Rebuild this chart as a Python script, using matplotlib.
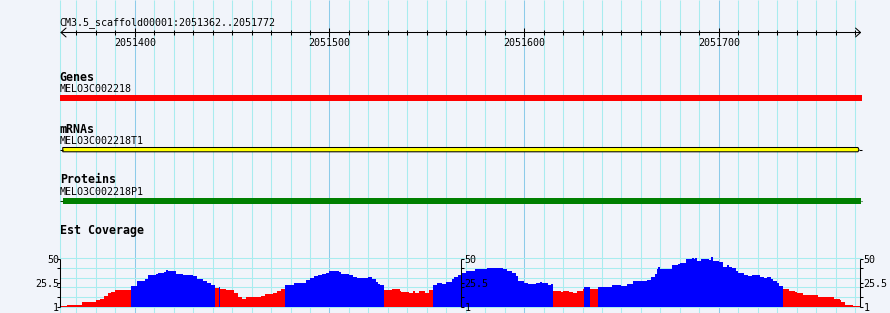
import numpy as np
import matplotlib
matplotlib.use("Agg")
import matplotlib.pyplot as plt
from matplotlib.patches import Polygon

# region shown in the browser
chrom = "CM3.5_scaffold00001"
view_start = 2051362
view_end = 2051772

# feature tracks
track_names = ["Genes", "mRNAs", "Proteins"]
feature_names = ["MELO3C002218", "MELO3C002218T1", "MELO3C002218P1"]
feature_colors = ["#ff0000", "#ffff00", "#008000"]
feature_starts = [2051361.5, 2051363, 2051363]
feature_ends = [2051773.5, 2051772, 2051773]

cov_offsets = [0, 3, 11, 18, 20, 22, 24, 26, 28, 36, 39, 43, 45, 49, 50, 53, 54, 55, 59, 63,
               68, 70, 73, 75, 77, 79, 81, 82, 85, 89, 91, 93, 95, 97, 103, 105, 109, 111, 113, 115,
               120, 126, 128, 130, 132, 134, 136, 138, 143, 144, 148, 150, 152, 158, 160, 162, 163, 164, 166, 170,
               174, 175, 179, 181, 182, 184, 186, 187, 189, 191, 193, 196, 198, 201, 202, 204, 206, 208, 213, 219,
               227, 229, 232, 234, 235, 238, 240, 244, 246, 247, 250, 252, 253, 257, 258, 261, 263, 265, 268, 269,
               272, 276, 283, 288, 291, 294, 298, 301, 303, 305, 306, 307, 308, 310, 312, 314, 317, 318, 321, 324,
               325, 326, 327, 329, 333, 334, 335, 338, 340, 342, 343, 345, 347, 348, 351, 353, 355, 359, 361, 363,
               365, 366, 368, 369, 371, 374, 377, 378, 381, 389, 397, 400, 401, 403, 407]
cov_values = [2.3, 3.3, 6.1, 8.1, 9.5, 12.2, 15, 16.3, 18.4, 22.7, 27.2, 29.3, 33.4, 34.7, 35.4, 36.7, 38.8, 37.4, 34.7, 34,
              32.6, 29.9, 27.2, 25.2, 23.2, 20.8, 21.6, 19.1, 18, 15.6, 11.5, 9.5, 10.9, 11.2, 12.2, 14.6, 15.6, 17, 19.4, 23.8,
              25.2, 28.6, 30.6, 32.6, 33.7, 34.7, 36, 37.8, 36.7, 35, 33.4, 31.3, 30.6, 31.3, 29.9, 26.5, 24.5, 23.2, 18.4, 19.1,
              17.6, 16.3, 15.6, 17, 15.6, 17, 17.6, 15.6, 18.4, 23.8, 25.2, 24.5, 26.5, 29.3, 31.3, 33.7, 36, 37.4, 40.1, 40.8,
              40.1, 38.1, 36, 32.6, 27.9, 25.8, 24.8, 25.8, 26.5, 25.2, 23.8, 24.5, 17.6, 16.3, 17, 16.3, 15.6, 17, 19.1, 21.6,
              19.1, 21.7, 23.8, 22.4, 24.8, 27.9, 27.2, 28.6, 31.9, 34.7, 40.1, 42.1, 40.1, 39.5, 40.1, 43.6, 44.9, 46.2, 49.7, 51,
              49.7, 51, 48.3, 50.3, 49, 51.7, 47.6, 46.9, 42.1, 44.2, 41.5, 40.8, 38.1, 36, 33.4, 32.6, 33.4, 31.3, 30.6, 31.3,
              29.9, 27.2, 25.2, 22.4, 19.7, 17.6, 16.3, 15, 13.6, 10.9, 9.5, 8.1, 6.1, 3.3, 2.3]
cov_pivot = 21.2
cov_ticks = [1, 11, 21, 25.5, 41, 50]
cov_tick_labels = ["1", "", "", "25.5", "", "50"]
cov_grid = [1, 11, 21, 31, 41, 51]

BG = "#f1f4fa"
GRID = "#a8ecef"
GRID_MAJOR = "#8ccbe9"
SMALL = dict(family="DejaVu Sans Mono", fontsize=7.2)
BOLD = dict(family="DejaVu Sans Mono", fontsize=8.4, fontweight="bold")

# pixel layout of the panel
W, H = 890, 313
bp_px = 1.9467
x0 = 2051400 - 134.8 / bp_px
x1 = x0 + W / bp_px
lo = view_start - 0.5
hi = view_end + 1.5

fig = plt.figure(figsize=(W / 100, H / 100), dpi=100)
fig.patch.set_facecolor(BG)
ax = fig.add_axes([0, 0, 1, 1])
ax.set_xlim(x0, x1)
ax.set_ylim(H, 0)
ax.axis("off")

# vertical grid every 10 bp, darker every 100 bp
grid_x = np.arange((view_start // 10 + 1) * 10, view_end + 1, 10)
ax.vlines(lo, 0, H, colors=GRID, lw=0.75, zorder=0)
ax.vlines(grid_x[grid_x % 100 != 0], 0, H, colors=GRID, lw=0.75, zorder=0)
ax.vlines(grid_x[grid_x % 100 == 0], 0, H, colors=GRID_MAJOR, lw=0.75, zorder=0)

# ruler
ax.text(lo, 24.7, "%s:%d..%d" % (chrom, view_start, view_end), ha="left", va="baseline", **SMALL)
ax.annotate("", xy=(view_start - 0.3, 32.5), xytext=(view_end + 1.2, 32.5),
            arrowprops=dict(arrowstyle="<->,head_length=0.45,head_width=0.4", lw=0.75,
                            color="black", shrinkA=0, shrinkB=0, mutation_scale=8))
ax.vlines(grid_x[grid_x % 100 != 0], 30, 35, colors="black", lw=0.75)
ax.vlines(grid_x[grid_x % 100 == 0], 28, 37, colors="black", lw=0.75)
for t in grid_x[grid_x % 100 == 0]:
    ax.text(t, 46, str(t), ha="center", va="baseline", **SMALL)

# feature tracks
label_base = [80.7, 132.7, 183.3]
name_base = [92.3, 144, 195]
bar_top = [95, 147.5, 198]
bar_h = [5.5, 4.3, 6]
for i in range(3):
    ax.text(lo, label_base[i], track_names[i], ha="left", va="baseline", **BOLD)
    ax.text(lo, name_base[i], feature_names[i], ha="left", va="baseline", **SMALL)
    s, e = feature_starts[i], feature_ends[i]
    top, h = bar_top[i], bar_h[i]
    mid = top + h / 2
    if track_names[i] == "mRNAs":
        tip = 1 / bp_px
        ax.add_patch(Polygon([(s, top), (e - tip, top), (e, mid), (e - tip, top + h), (s, top + h)],
                             closed=True, facecolor=feature_colors[i], edgecolor="black", lw=0.75))
        ax.hlines(mid, lo, s, colors="black", lw=0.75)
        ax.hlines(mid, e, hi, colors="black", lw=0.75)
    else:
        ax.broken_barh([(s, e - s)], (top, h), facecolors=feature_colors[i], antialiased=False)
        if s > lo:
            ax.hlines(mid, lo, s, colors="#004000", lw=0.75)
        if e < hi:
            ax.hlines(mid, e, hi, colors="#004000", lw=0.75)

ax.text(lo, 234, "Est Coverage", ha="left", va="baseline", **BOLD)

# coverage plot, y in depth units (49 units over 48 px)
cov_base_px, cov_top_px = 307, 250
unit_px = 48 / 49
ax_cov = fig.add_axes([0, (H - cov_base_px) / H, 1, (cov_base_px - cov_top_px) / H])
ax_cov.set_xlim(x0, x1)
ax_cov.set_ylim(1, 1 + (cov_base_px - cov_top_px) / unit_px)
ax_cov.axis("off")

ax_cov.hlines(cov_grid, lo, view_end + 1, colors=GRID, lw=0.75, zorder=1, clip_on=False)

depth = np.repeat(cov_values, np.diff(cov_offsets + [view_end - view_start + 1]))
pos = view_start + np.arange(len(depth))
colors = np.where(depth > cov_pivot, "#0000ff", "#ff0000")
ax_cov.bar(pos, depth, width=1, align="edge", color=colors, lw=0, antialiased=False, zorder=2)

tick_len = 3 / bp_px
for xa, side in [(view_start - 0.3, -1), ((view_start + view_end + 1) / 2, 1), (view_end + 0.5, 1)]:
    ax_cov.vlines(xa, cov_ticks[0], cov_ticks[-1], colors="black", lw=0.75, zorder=3, clip_on=False)
    ax_cov.hlines(cov_ticks, xa, xa + side * tick_len, colors="black", lw=0.75, zorder=3, clip_on=False)
    for v, lab in zip(cov_ticks, cov_tick_labels):
        if lab:
            if side < 0:
                ax_cov.text(xa - 1.2 / bp_px, v, lab, ha="right", va="center_baseline", clip_on=False, **SMALL)
            else:
                ax_cov.text(xa + 3.8 / bp_px, v, lab, ha="left", va="center_baseline", clip_on=False, **SMALL)

fig.savefig("out.png", dpi=100, facecolor=BG)
